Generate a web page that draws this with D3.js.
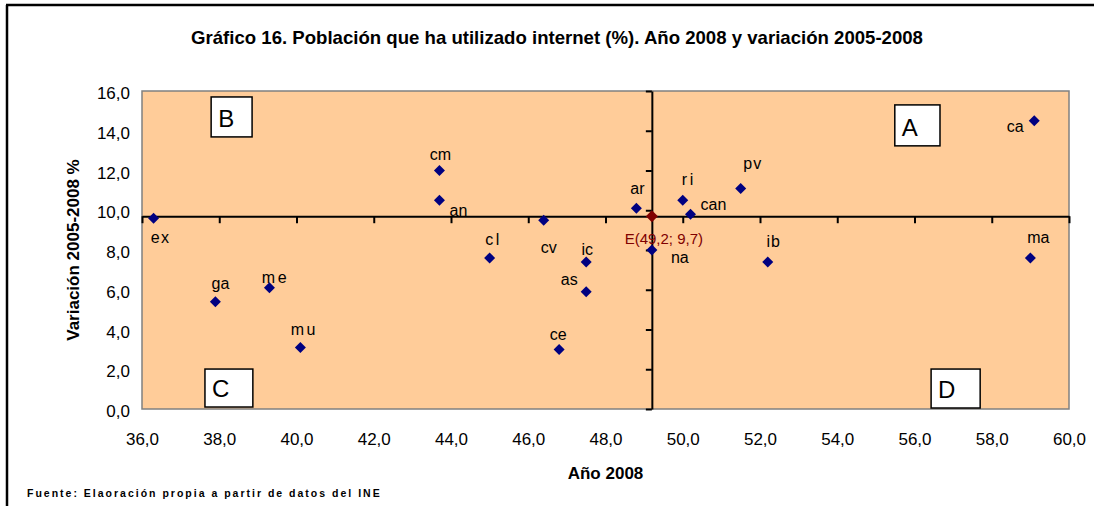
<!DOCTYPE html>
<html>
<head>
<meta charset="utf-8">
<script src="https://cdn.jsdelivr.net/npm/d3@7"></script>
<style>
  html, body { margin: 0; padding: 0; background: #fff; }
  svg { display: block; font-family: Arial, "Liberation Sans", sans-serif; }
</style>
</head>
<body>
<svg id="chart" width="1094" height="506"></svg>
<script>
// ---- Data ----
const regions = ["ex","ga","me","mu","an","cm","cl","cv","ce","as","ic","ar","na","ri","can","pv","ib","ma","ca"];
const year2008 = [36.3,37.9,39.3,40.1,43.7,43.7,45.0,46.4,46.8,47.5,47.5,48.8,49.2,50.0,50.2,51.5,52.2,59.0,59.1];
const variation = [9.6,5.4,6.1,3.1,10.5,12.0,7.6,9.5,3.0,5.9,7.4,10.1,8.0,10.5,9.8,11.1,7.4,7.6,14.5];
const spainLabel = "E(49,2; 9,7)";
const spainX = [49.2];
const spainY = [9.7];
const xTicks = [36,38,40,42,44,46,48,50,52,54,56,58,60];
const yTicks = [0,2,4,6,8,10,12,14,16];
const quadrantLetters = ["A","B","C","D"];
const quadrantX0 = [55.49, 37.79, 37.63, 56.43];
const quadrantX1 = [56.66, 38.85, 38.87, 57.70];
const quadrantYTop = [15.30, 15.70, 2.01, 2.01];
const quadrantYBot = [13.24, 13.69, 0.10, 0.05];

const title = "Gráfico 16. Población que ha utilizado internet (%). Año 2008 y variación 2005-2008";
const xTitle = "Año 2008";
const yTitle = "Variación 2005-2008 %";
const source = "Fuente: Elaoración propia a partir de datos del  INE";

// ---- Label placement (pixel offsets, layout only) ----
const labelOffset = {
  ex:[7,25], ga:[5,-13], me:[6,-5], mu:[4,-12], an:[19,16], cm:[1,-11], cl:[4,-13],
  cv:[5,33], ce:[-1,-9], as:[-17,-7], ic:[1,-7], ar:[1,-14], na:[28,13], ri:[6,-15],
  can:[23,-4], pv:[12,-19], ib:[6,-15], ma:[8,-15], ca:[-19,11]
};
const spaced = {me:2.5, mu:2.5, ri:2.5, cl:2.5, ex:1.5, pv:1, ib:1};

const svg = d3.select("#chart");
const fmt = d => d.toFixed(1).replace(".", ",");

const x = d3.scaleLinear().domain([36,60]).range([142,1069]);
const y = d3.scaleLinear().domain([0,16]).range([409,91]);

// outer frame (left + top)
svg.append("line").attr("x1",7).attr("x2",7).attr("y1",5).attr("y2",506)
  .attr("stroke","#000").attr("stroke-width",2.5);
svg.append("line").attr("x1",6).attr("x2",1094).attr("y1",5).attr("y2",5)
  .attr("stroke","#000").attr("stroke-width",2.5);

// title
svg.append("text").attr("x",557).attr("y",44).attr("text-anchor","middle")
  .attr("font-size",18.6).attr("font-weight","bold").attr("fill","#000").text(title);

// plot area
svg.append("rect").attr("x",x(36)).attr("y",y(16))
  .attr("width",x(60)-x(36)).attr("height",y(0)-y(16))
  .attr("fill","#FFCC99").attr("stroke","#808080").attr("stroke-width",1.5);

// tick labels (axes at plot edges)
const yAxisLab = svg.append("g").attr("transform",`translate(${x(36)},0)`)
  .call(d3.axisLeft(y).tickValues(yTicks).tickFormat(fmt).tickSize(0).tickPadding(12));
yAxisLab.select(".domain").remove();
yAxisLab.selectAll("text").attr("font-size",17).attr("font-family","Arial, 'Liberation Sans', sans-serif").attr("fill","#000").attr("dy","0.45em");

const xAxisLab = svg.append("g").attr("transform",`translate(0,${y(0)})`)
  .call(d3.axisBottom(x).tickValues(xTicks).tickFormat(fmt).tickSize(0).tickPadding(24));
xAxisLab.select(".domain").remove();
xAxisLab.selectAll("text").attr("font-size",17).attr("font-family","Arial, 'Liberation Sans', sans-serif").attr("fill","#000");

// crossing axes at Spain's values
const hAxis = svg.append("g").attr("transform",`translate(0,${y(spainY[0])})`)
  .call(d3.axisBottom(x).tickValues(xTicks).tickFormat("").tickSize(7).tickSizeOuter(0));
hAxis.selectAll("path, line").attr("stroke","#000").attr("stroke-width",2);

const vAxis = svg.append("g").attr("transform",`translate(${x(spainX[0])},0)`)
  .call(d3.axisLeft(y).tickValues(yTicks).tickFormat("").tickSize(6).tickSizeOuter(0));
vAxis.selectAll("path, line").attr("stroke","#000").attr("stroke-width",2);

// quadrant boxes
quadrantLetters.forEach((L,i) => {
  const bx = x(quadrantX0[i]), by = y(quadrantYTop[i]);
  const bw = x(quadrantX1[i]) - bx, bh = y(quadrantYBot[i]) - by;
  svg.append("rect").attr("x",bx).attr("y",by).attr("width",bw).attr("height",bh)
    .attr("fill","#fff").attr("stroke","#000").attr("stroke-width",1.5);
  svg.append("text").attr("x",bx+7).attr("y",by+bh-10).attr("font-size",24)
    .attr("fill","#000").text(L);
});

// points
const diamond = r => `M0,${-r}L${r},0L0,${r}L${-r},0Z`;
const pts = regions.map((n,i) => ({n, xv: year2008[i], yv: variation[i]}));

svg.append("g").selectAll("path").data(pts).join("path")
  .attr("d", diamond(5.5))
  .attr("transform", d => `translate(${x(d.xv)},${y(d.yv)})`)
  .attr("fill","#000080");

svg.append("g").selectAll("text").data(pts).join("text")
  .attr("x", d => x(d.xv) + labelOffset[d.n][0])
  .attr("y", d => y(d.yv) + labelOffset[d.n][1])
  .attr("text-anchor","middle")
  .attr("font-size",16)
  .attr("letter-spacing", d => spaced[d.n] || 0)
  .attr("fill","#000")
  .text(d => d.n);

// Spain point
svg.append("path").attr("d", diamond(6))
  .attr("transform",`translate(${x(spainX[0])},${y(spainY[0])})`)
  .attr("fill","#800000");
svg.append("text").attr("x", x(spainX[0]) + 12).attr("y", y(spainY[0]) + 28)
  .attr("text-anchor","middle").attr("font-size",15).attr("fill","#800000").text(spainLabel);

// axis titles
svg.append("text").attr("x",(x(36)+x(60))/2).attr("y",479).attr("text-anchor","middle")
  .attr("font-size",17).attr("font-weight","bold").attr("fill","#000").text(xTitle);
svg.append("text").attr("transform",`translate(79,${(y(0)+y(16))/2}) rotate(-90)`)
  .attr("text-anchor","middle").attr("font-size",17).attr("font-weight","bold")
  .attr("fill","#000").text(yTitle);

// source
svg.append("text").attr("x",27).attr("y",497).attr("font-size",10.5).attr("font-weight","bold")
  .attr("letter-spacing",2).attr("fill","#000").text(source);
</script>
</body>
</html>
